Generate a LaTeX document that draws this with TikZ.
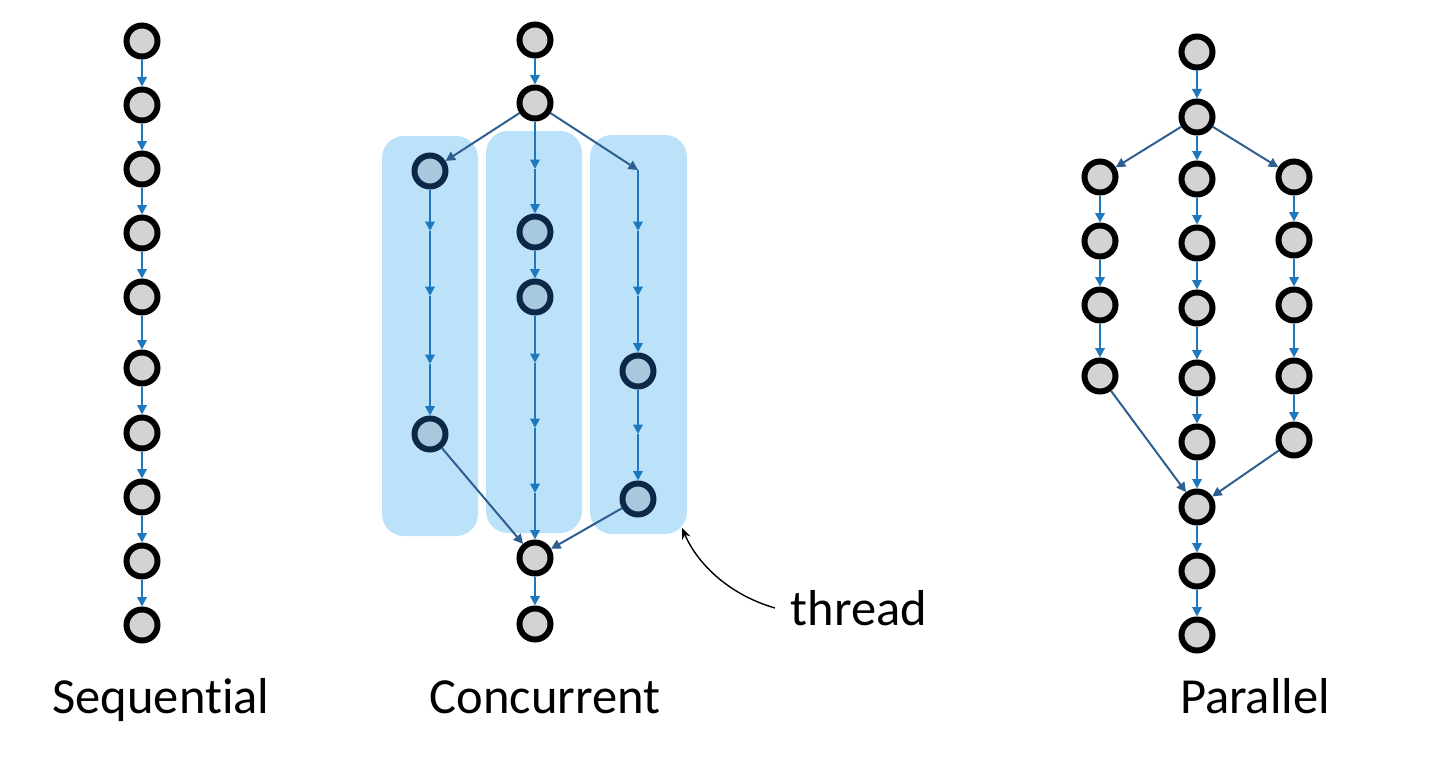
\documentclass[tikz,border=0pt]{standalone}
\usepackage{fontspec}
\setmainfont{Carlito}[Ligatures=NoCommon]
\usetikzlibrary{arrows.meta}
\definecolor{edgeblue}{RGB}{30,120,190}
\definecolor{diagblue}{RGB}{45,95,145}
\definecolor{dotgray}{RGB}{211,211,211}
\definecolor{tdotfill}{RGB}{168,200,222}
\definecolor{tdotdraw}{RGB}{12,40,70}
\definecolor{boxblue}{RGB}{188,226,250}
\begin{document}
\begin{tikzpicture}[x=1pt,y=-1pt,
  dot/.style={circle,draw=black,fill=dotgray,line width=6pt,minimum size=31pt,inner sep=0pt},
  tdot/.style={dot,draw=tdotdraw,fill=tdotfill},
  edge/.style={draw=edgeblue,line width=2pt,-{Triangle[length=9.5pt,width=9.5pt]}},
  diag/.style={edge,draw=diagblue},
  lbl/.style={font=\fontsize{50.5}{60}\selectfont,anchor=base,inner sep=0pt}]
\useasboundingbox (0,0) rectangle (1436,776);
% thread boxes
\fill[boxblue,rounded corners=22pt] (382,136) rectangle (478,536);
\fill[boxblue,rounded corners=22pt] (486,131) rectangle (582,533);
\fill[boxblue,rounded corners=22pt] (590,135) rectangle (687,534);
% ---------------- Sequential
\node[dot] (s1) at (142,41) {};
\node[dot] (s2) at (142,105) {};
\node[dot] (s3) at (142,169) {};
\node[dot] (s4) at (142,233) {};
\node[dot] (s5) at (142,297) {};
\node[dot] (s6) at (142,368) {};
\node[dot] (s7) at (142,433) {};
\node[dot] (s8) at (142,497) {};
\node[dot] (s9) at (142,561) {};
\node[dot] (s10) at (142,625) {};
\foreach \a/\b in {s1/s2,s2/s3,s3/s4,s4/s5,s5/s6,s6/s7,s7/s8,s8/s9,s9/s10}
  \draw[edge] (\a) -- (\b);
% ---------------- Concurrent
\node[dot] (c1) at (535,40) {};
\node[dot] (c2) at (535,103) {};
\node[tdot] (l1) at (430,171) {};
\coordinate (l2) at (430,231);
\coordinate (l3) at (430,296);
\coordinate (l4) at (430,364);
\node[tdot] (l5) at (430,434) {};
\coordinate (m1) at (535,169);
\node[tdot] (m2) at (535,232) {};
\node[tdot] (m3) at (535,297) {};
\coordinate (m4) at (535,363);
\coordinate (m5) at (535,428);
\coordinate (m6) at (535,493);
\coordinate (r1) at (638,170);
\coordinate (r2) at (638,231);
\coordinate (r3) at (638,296);
\node[tdot] (r4) at (638,371) {};
\coordinate (r5) at (638,434);
\node[tdot] (r6) at (638,499) {};
\node[dot] (c3) at (535,558) {};
\node[dot] (c4) at (535,624) {};
\draw[edge] (c1) -- (c2);
\draw[diag] (c2) -- (l1);
\draw[diag] (c2) -- (r1);
\draw[edge] (c2) -- (m1);
\foreach \a/\b in {l1/l2,l2/l3,l3/l4,l4/l5,m1/m2,m2/m3,m3/m4,m4/m5,m5/m6,m6/c3,r1/r2,r2/r3,r3/r4,r4/r5,r5/r6}
  \draw[edge] (\a) -- (\b);
\draw[diag] (l5) -- (c3);
\draw[diag] (r6) -- (c3);
\draw[edge] (c3) -- (c4);
% ---------------- Parallel
\node[dot] (p1) at (1197,52) {};
\node[dot] (p2) at (1197,117) {};
\node[dot] (pl1) at (1100,177) {};
\node[dot] (pl2) at (1100,241) {};
\node[dot] (pl3) at (1100,305) {};
\node[dot] (pl4) at (1100,376) {};
\node[dot] (pm1) at (1197,179) {};
\node[dot] (pm2) at (1197,243) {};
\node[dot] (pm3) at (1197,308) {};
\node[dot] (pm4) at (1197,378) {};
\node[dot] (pm5) at (1197,442) {};
\node[dot] (pr1) at (1294,177) {};
\node[dot] (pr2) at (1294,240) {};
\node[dot] (pr3) at (1294,305) {};
\node[dot] (pr4) at (1294,376) {};
\node[dot] (pr5) at (1294,440) {};
\node[dot] (p3) at (1197,507) {};
\node[dot] (p4) at (1197,571) {};
\node[dot] (p5) at (1197,635) {};
\draw[edge] (p1) -- (p2);
\draw[diag] (p2) -- (pl1);
\draw[diag] (p2) -- (pr1);
\foreach \a/\b in {p2/pm1,pl1/pl2,pl2/pl3,pl3/pl4,pm1/pm2,pm2/pm3,pm3/pm4,pm4/pm5,pm5/p3,pr1/pr2,pr2/pr3,pr3/pr4,pr4/pr5,p3/p4,p4/p5}
  \draw[edge] (\a) -- (\b);
\draw[diag] (pl4) -- (p3);
\draw[diag] (pr5) -- (p3);
% ---------------- labels
\node[lbl] (tseq) at (161,713) {Sequential};
\node[lbl] (tcon) at (545,713) {Concurrent};
\node[lbl] (tpar) at (1255,713) {Parallel};
\node[lbl] (tthr) at (859,625) {thread};
\coordinate (thrtail) at (775,608);
\coordinate (thrtip) at (682,528);
\draw[line width=1.4pt,-{Stealth[length=11pt,width=9pt]}] (thrtail) .. controls (730,595) and (698,565) .. (thrtip);
\end{tikzpicture}
\end{document}
